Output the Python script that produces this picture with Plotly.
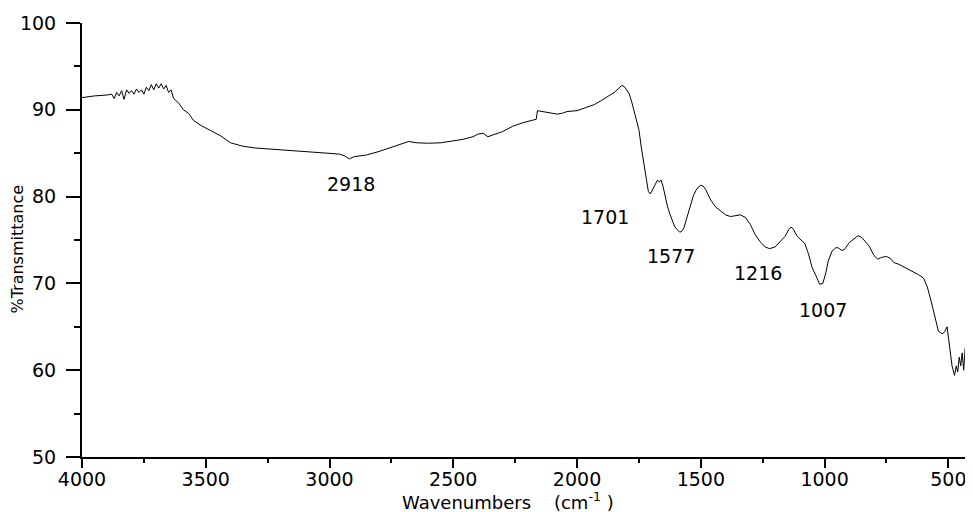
import plotly.graph_objects as go

wavenumber = [4000, 3950, 3900, 3880, 3870, 3860, 3850, 3840, 3830, 3820, 3810, 3800, 3790, 3780,
              3770, 3760, 3750, 3740, 3730, 3720, 3710, 3700, 3690, 3680, 3670, 3660, 3650, 3640,
              3630, 3610, 3590, 3570, 3550, 3520, 3480, 3440, 3400, 3350, 3300, 3200, 3100, 3000,
              2960, 2940, 2920, 2900, 2880, 2850, 2800, 2750, 2700, 2680, 2650, 2600, 2550, 2500,
              2460, 2420, 2400, 2380, 2360, 2340, 2300, 2260, 2220, 2180, 2165, 2160, 2120, 2080,
              2060, 2040, 2000, 1960, 1930, 1900, 1870, 1850, 1830, 1820, 1810, 1800, 1790, 1780,
              1770, 1760, 1750, 1740, 1730, 1720, 1712, 1704, 1695, 1685, 1675, 1668, 1660, 1652,
              1645, 1635, 1625, 1615, 1605, 1595, 1585, 1577, 1568, 1560, 1550, 1540, 1530, 1520,
              1510, 1500, 1490, 1480, 1470, 1460, 1440, 1420, 1400, 1380, 1360, 1340, 1320, 1300,
              1280, 1260, 1240, 1222, 1200, 1180, 1160, 1145, 1135, 1125, 1110, 1095, 1080, 1065,
              1050, 1035, 1020, 1007, 995, 985, 970, 955, 945, 930, 920, 900, 880, 865, 850, 835,
              820, 800, 785, 770, 750, 735, 720, 700, 680, 660, 640, 620, 600, 585, 570, 555, 540,
              525, 515, 505, 495, 485, 475, 468, 462, 456, 450, 444, 438, 432, 426, 420, 416]

transmittance = [91.4, 91.6, 91.7, 91.8, 91.3, 92.0, 91.6, 92.2, 91.2, 92.3, 91.9, 92.2, 91.8, 92.4,
                 92.0, 92.3, 91.8, 92.6, 92.2, 92.9, 92.3, 93.0, 92.5, 93.0, 92.4, 92.8, 92.0, 92.3,
                 91.3, 90.8, 90.0, 89.6, 88.8, 88.2, 87.6, 87.0, 86.2, 85.8, 85.6, 85.4, 85.2, 84.95,
                 84.9, 84.7, 84.35, 84.6, 84.65, 84.8, 85.2, 85.7, 86.2, 86.35, 86.2, 86.15, 86.2, 86.4,
                 86.6, 86.9, 87.2, 87.3, 86.9, 87.1, 87.5, 88.1, 88.5, 88.8, 88.9, 89.9, 89.7, 89.5,
                 89.6, 89.8, 89.9, 90.3, 90.6, 91.1, 91.6, 92.0, 92.5, 92.8, 92.7, 92.3, 91.9, 91.0,
                 90.0, 89.0, 87.7, 85.6, 83.8, 82.0, 80.6, 80.3, 80.8, 81.4, 81.9, 81.7, 81.9, 81.1,
                 80.0, 78.9, 78.0, 77.2, 76.5, 76.2, 75.9, 76.0, 76.4, 77.2, 78.2, 79.4, 80.1, 80.7,
                 81.1, 81.3, 81.2, 80.8, 80.2, 79.6, 78.8, 78.3, 77.9, 77.7, 77.8, 77.9, 77.6, 76.8,
                 75.6, 74.8, 74.2, 74.0, 74.2, 74.8, 75.4, 76.2, 76.5, 76.2, 75.4, 75.0, 74.6, 73.4,
                 71.8, 70.9, 69.9, 70.0, 71.2, 72.6, 73.7, 74.1, 74.1, 73.8, 73.9, 74.7, 75.2, 75.5, 75.3, 74.8,
                 74.3, 73.2, 72.8, 73.0, 73.1, 72.9, 72.4, 72.2, 71.9, 71.6, 71.3, 71.0, 70.6, 69.6, 68.0, 66.2, 64.5,
                 64.2, 64.4, 65.0, 63.0, 60.5, 59.4, 60.5, 59.8, 61.5, 60.5, 62.0, 60.0, 62.5, 60.8, 63.1, 62.0]

peak_labels = ["2918", "1701", "1577", "1216", "1007"]
peak_label_x = [2913, 1886, 1620, 1269, 1005]
peak_label_y = [81.4, 77.7, 73.2, 71.2, 66.9]

x_title = "Wavenumbers&nbsp;&nbsp;&nbsp;&nbsp;(cm<sup>-1</sup> )"
y_title = "%Transmittance"

FONT = "DejaVu Sans, Arial, sans-serif"

fig = go.Figure()
fig.add_trace(go.Scatter(x=wavenumber, y=transmittance, mode="lines",
                         line=dict(color="black", width=1), showlegend=False))

for t, x, y in zip(peak_labels, peak_label_x, peak_label_y):
    fig.add_annotation(x=x, y=y, text=t, showarrow=False,
                       font=dict(family=FONT, size=19, color="black"))

# axis titles placed as annotations for exact positioning
fig.add_annotation(xref="x", yref="paper", x=2280, y=0, yshift=-44, text=x_title,
                   showarrow=False, yanchor="middle",
                   font=dict(family=FONT, size=18, color="black"))
fig.add_annotation(xref="paper", yref="y", x=0, y=73.9, xshift=-64, text=y_title,
                   showarrow=False, textangle=-90, xanchor="center",
                   font=dict(family=FONT, size=16, color="black"))

fig.update_layout(
    width=973, height=512,
    margin=dict(l=74, r=0, t=15, b=63, autoexpand=False),
    paper_bgcolor="white", plot_bgcolor="white",
    font=dict(family=FONT, size=19, color="black"),
    xaxis=dict(range=[4000, 368], dtick=500, tick0=0, showgrid=False, zeroline=False,
               automargin=False,
               showline=True, linewidth=2, linecolor="black",
               ticks="outside", ticklen=9, tickwidth=2, tickcolor="black",
               ticklabelstandoff=-5,
               minor=dict(dtick=250, ticks="outside", ticklen=4, tickwidth=2, tickcolor="black")),
    yaxis=dict(range=[50, 100], dtick=10, showgrid=False, zeroline=False,
               automargin=False,
               showline=True, linewidth=2, linecolor="black",
               ticks="outside", ticklen=14, tickwidth=2, tickcolor="black",
               ticklabelstandoff=6,
               minor=dict(dtick=5, ticks="outside", ticklen=6, tickwidth=2, tickcolor="black")),
)

fig.write_html("out.html")
